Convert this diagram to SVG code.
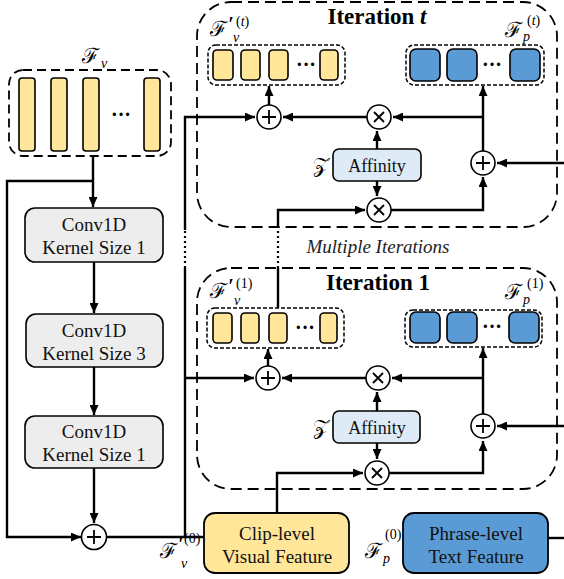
<svg xmlns="http://www.w3.org/2000/svg" width="564" height="579" viewBox="0 0 564 579">
<defs>
<marker id="ah" markerUnits="userSpaceOnUse" markerWidth="10" markerHeight="9" refX="10" refY="4.5" orient="auto">
<path d="M0,0 L10,4.5 L0,9 z" fill="#000"/>
</marker>
<style>
.ln{fill:none;stroke:#000;stroke-width:2.4}
.ar{marker-end:url(#ah)}
.dot{fill:none;stroke:#000;stroke-width:2.2;stroke-dasharray:2,3}
.iter{fill:none;stroke:#000;stroke-width:1.8;stroke-dasharray:11,6}
.grp{fill:#fff;stroke:#000;stroke-width:1.5;stroke-dasharray:4,2}
.yb{fill:#FFE699;stroke:#000;stroke-width:1.6}
.bb{fill:#5B9BD5;stroke:#000;stroke-width:1.6}
.conv{fill:#EDEDED;stroke:#000;stroke-width:1.6}
.aff{fill:#DEEBF7;stroke:#000;stroke-width:1.6}
.op{fill:#fff;stroke:#000;stroke-width:1.6}
.sg{stroke:#000;stroke-width:1.8;fill:none}
.t{font-family:"Liberation Serif","Times New Roman",serif;font-size:19px;fill:#111;text-anchor:middle}
.ti{font-family:"Liberation Serif","Times New Roman",serif;font-size:23px;font-weight:bold;fill:#000;text-anchor:middle}
.mi{font-family:"Liberation Serif","Times New Roman",serif;font-size:19px;font-style:italic;fill:#222;text-anchor:middle}
.m{font-family:"DejaVu Serif","Liberation Serif",serif;font-size:21px;fill:#000}
.s{font-family:"Liberation Serif","Times New Roman",serif;font-size:14px;font-style:normal}
.i{font-style:italic}
.pr{font-family:"Liberation Serif",serif;font-size:20px;font-style:italic;font-weight:bold}
.dots{font-family:"Liberation Serif",serif;font-size:20px;font-weight:bold;fill:#000;text-anchor:middle}
</style>
</defs>

<!-- Iteration boxes -->
<g id="iteration-t">
<rect class="iter" x="197" y="2" width="360" height="225" rx="34"/>
<text class="ti" x="377" y="24">Iteration <tspan font-style="italic">t</tspan></text>
</g>
<g id="iteration-1">
<rect class="iter" x="197" y="268" width="360" height="221" rx="34"/>
<text class="ti" x="378" y="290">Iteration 1</text>
</g>
<g id="multiple-label"><text class="mi" x="378" y="253">Multiple Iterations</text></g>

<!-- connectors -->
<g id="connectors">
<path class="ln ar" d="M93,156 V207"/>
<path class="ln ar" d="M93,181 H7 V537 H81"/>
<path class="ln ar" d="M94,262 V313"/>
<path class="ln ar" d="M94,367 V415"/>
<path class="ln ar" d="M94,468 V523"/>
<path class="ln" d="M107,537 H204"/>
<path class="ln" d="M185,537 V268"/>
<path class="dot" d="M185,268 V230"/>
<path class="ln ar" d="M185,230 V117 H255"/>
<path class="ln ar" d="M185,378 H254"/>
<!-- iteration 1 -->
<path class="ln ar" d="M268,366 V349"/>
<path class="ln ar" d="M366,378 H282"/>
<path class="ln ar" d="M483,378 H392"/>
<path class="ln ar" d="M483,414 V348"/>
<path class="ln ar" d="M377,411 V392"/>
<path class="ln ar" d="M377,443 V459"/>
<path class="ln ar" d="M389,473 H483 V441"/>
<path class="ln ar" d="M277,513 V473 H363"/>
<path class="ln ar" d="M564,426 H497"/>
<path class="ln" d="M548,538 H564"/>
<!-- iteration t -->
<path class="ln ar" d="M269,105 V86"/>
<path class="ln ar" d="M367,117 H283"/>
<path class="ln ar" d="M483,117 H393"/>
<path class="ln ar" d="M483,151 V86"/>
<path class="ln ar" d="M377,149 V131"/>
<path class="ln ar" d="M377,181 V196"/>
<path class="ln ar" d="M391,210 H483 V177"/>
<path class="ln ar" d="M564,163 H497"/>
<path class="ln" d="M278,308 V268"/>
<path class="dot" d="M278,268 V228"/>
<path class="ln ar" d="M278,228 V210 H365"/>
</g>

<!-- F_v input -->
<g id="fv">
<rect class="grp" x="9" y="70" width="162" height="86" rx="14" style="stroke-dasharray:9,5;stroke-width:1.8"/>
<rect class="yb" x="19" y="78" width="16" height="73" rx="3"/>
<rect class="yb" x="51" y="78" width="16" height="73" rx="3"/>
<rect class="yb" x="83" y="78" width="16" height="73" rx="3"/>
<text class="dots" x="121" y="121">···</text>
<rect class="yb" x="144" y="78" width="16" height="73" rx="3"/>
<text class="m" x="82" y="63">ℱ<tspan class="s i" x="101" y="68">v</tspan></text>
</g>

<g id="conv1">
<rect class="conv" x="25" y="208" width="138" height="54" rx="10"/>
<text class="t" x="94" y="231">Conv1D</text>
<text class="t" x="94" y="254">Kernel Size 1</text>
</g>
<g id="conv3">
<rect class="conv" x="26" y="314" width="137" height="53" rx="10"/>
<text class="t" x="94" y="337">Conv1D</text>
<text class="t" x="94" y="360">Kernel Size 3</text>
</g>
<g id="conv1b">
<rect class="conv" x="25" y="416" width="138" height="52" rx="10"/>
<text class="t" x="94" y="438">Conv1D</text>
<text class="t" x="94" y="461">Kernel Size 1</text>
</g>
<g id="plus-res">
<circle class="op" cx="94" cy="537" r="12.5"/>
<path class="sg" d="M87,537 H101 M94,530 V544"/>
</g>

<g id="clip">
<rect class="yb" x="204" y="513" width="145" height="60" rx="11" style="stroke-width:1.8"/>
<text class="t" x="277" y="540">Clip-level</text>
<text class="t" x="277" y="563">Visual Feature</text>
<text class="m" x="160" y="558">ℱ<tspan class="pr" x="178" y="551">′</tspan><tspan class="s" x="184" y="543">(0)</tspan><tspan class="s i" x="181" y="568">v</tspan></text>
</g>
<g id="phrase">
<rect class="bb" x="403" y="513" width="145" height="60" rx="11" style="stroke-width:1.8"/>
<text class="t" x="476" y="540">Phrase-level</text>
<text class="t" x="476" y="563">Text Feature</text>
<text class="m" x="365" y="558">ℱ<tspan class="s i" x="383" y="563">p</tspan><tspan class="s" x="385" y="539">(0)</tspan></text>
</g>

<!-- Iteration t internals -->
<g id="fv-t">
<rect class="grp" x="208" y="45" width="137" height="40" rx="8"/>
<rect class="yb" x="213" y="50" width="20" height="30" rx="4"/>
<rect class="yb" x="241" y="50" width="19" height="30" rx="4"/>
<rect class="yb" x="269" y="50" width="19" height="30" rx="4"/>
<text class="dots" x="306" y="71">···</text>
<rect class="yb" x="320" y="50" width="18" height="30" rx="4"/>
<text class="m" x="210" y="36">ℱ<tspan class="pr" x="228" y="31">′</tspan><tspan class="s" x="236" y="26">(<tspan class="i">t</tspan>)</tspan><tspan class="s i" x="233" y="42">v</tspan></text>
</g>
<g id="fp-t">
<rect class="grp" x="406" y="45" width="138" height="40" rx="8"/>
<rect class="bb" x="410" y="49" width="30" height="32" rx="6"/>
<rect class="bb" x="447" y="49" width="30" height="32" rx="6"/>
<text class="dots" x="492" y="71">···</text>
<rect class="bb" x="510" y="49" width="30" height="32" rx="6"/>
<text class="m" x="505" y="37">ℱ<tspan class="s i" x="523" y="41">p</tspan><tspan class="s" x="527" y="25">(<tspan class="i">t</tspan>)</tspan></text>
</g>
<g id="plus-v-t"><circle class="op" cx="269" cy="117" r="12"/><path class="sg" d="M262,117 H276 M269,110 V124"/></g>
<g id="times-v-t"><circle class="op" cx="379" cy="117" r="12"/><path class="sg" d="M374,112 L384,122 M384,112 L374,122"/></g>
<g id="plus-p-t"><circle class="op" cx="483" cy="163" r="12"/><path class="sg" d="M476,163 H490 M483,156 V170"/></g>
<g id="affinity-t">
<rect class="aff" x="333" y="149" width="88" height="32" rx="6"/>
<text class="t" x="377" y="172" style="font-size:18px">Affinity</text>
<text class="m" x="313" y="172">𝒵</text>
</g>
<g id="times-p-t"><circle class="op" cx="379" cy="210" r="12"/><path class="sg" d="M374,205 L384,215 M384,205 L374,215"/></g>

<!-- Iteration 1 internals -->
<g id="fv-1">
<rect class="grp" x="207" y="308" width="137" height="40" rx="8"/>
<rect class="yb" x="213" y="313" width="19" height="30" rx="4"/>
<rect class="yb" x="241" y="313" width="18" height="30" rx="4"/>
<rect class="yb" x="269" y="313" width="18" height="30" rx="4"/>
<text class="dots" x="305" y="334">···</text>
<rect class="yb" x="320" y="313" width="17" height="30" rx="4"/>
<text class="m" x="210" y="298">ℱ<tspan class="pr" x="228" y="293">′</tspan><tspan class="s" x="236" y="288">(1)</tspan><tspan class="s i" x="234" y="305">v</tspan></text>
</g>
<g id="fp-1">
<rect class="grp" x="405" y="310" width="137" height="37" rx="8"/>
<rect class="bb" x="410" y="312" width="30" height="31" rx="6"/>
<rect class="bb" x="447" y="312" width="30" height="31" rx="6"/>
<text class="dots" x="492" y="333">···</text>
<rect class="bb" x="509" y="312" width="30" height="31" rx="6"/>
<text class="m" x="505" y="299">ℱ<tspan class="s i" x="523" y="304">p</tspan><tspan class="s" x="527" y="288">(1)</tspan></text>
</g>
<g id="plus-v-1"><circle class="op" cx="268" cy="378" r="12"/><path class="sg" d="M261,378 H275 M268,371 V385"/></g>
<g id="times-v-1"><circle class="op" cx="378" cy="378" r="12"/><path class="sg" d="M373,373 L383,383 M383,373 L373,383"/></g>
<g id="plus-p-1"><circle class="op" cx="483" cy="426" r="12"/><path class="sg" d="M476,426 H490 M483,419 V433"/></g>
<g id="affinity-1">
<rect class="aff" x="333" y="411" width="87" height="32" rx="6"/>
<text class="t" x="377" y="434" style="font-size:18px">Affinity</text>
<text class="m" x="313" y="434">𝒵</text>
</g>
<g id="times-p-1"><circle class="op" cx="377" cy="473" r="12"/><path class="sg" d="M372,468 L382,478 M382,468 L372,478"/></g>
</svg>
